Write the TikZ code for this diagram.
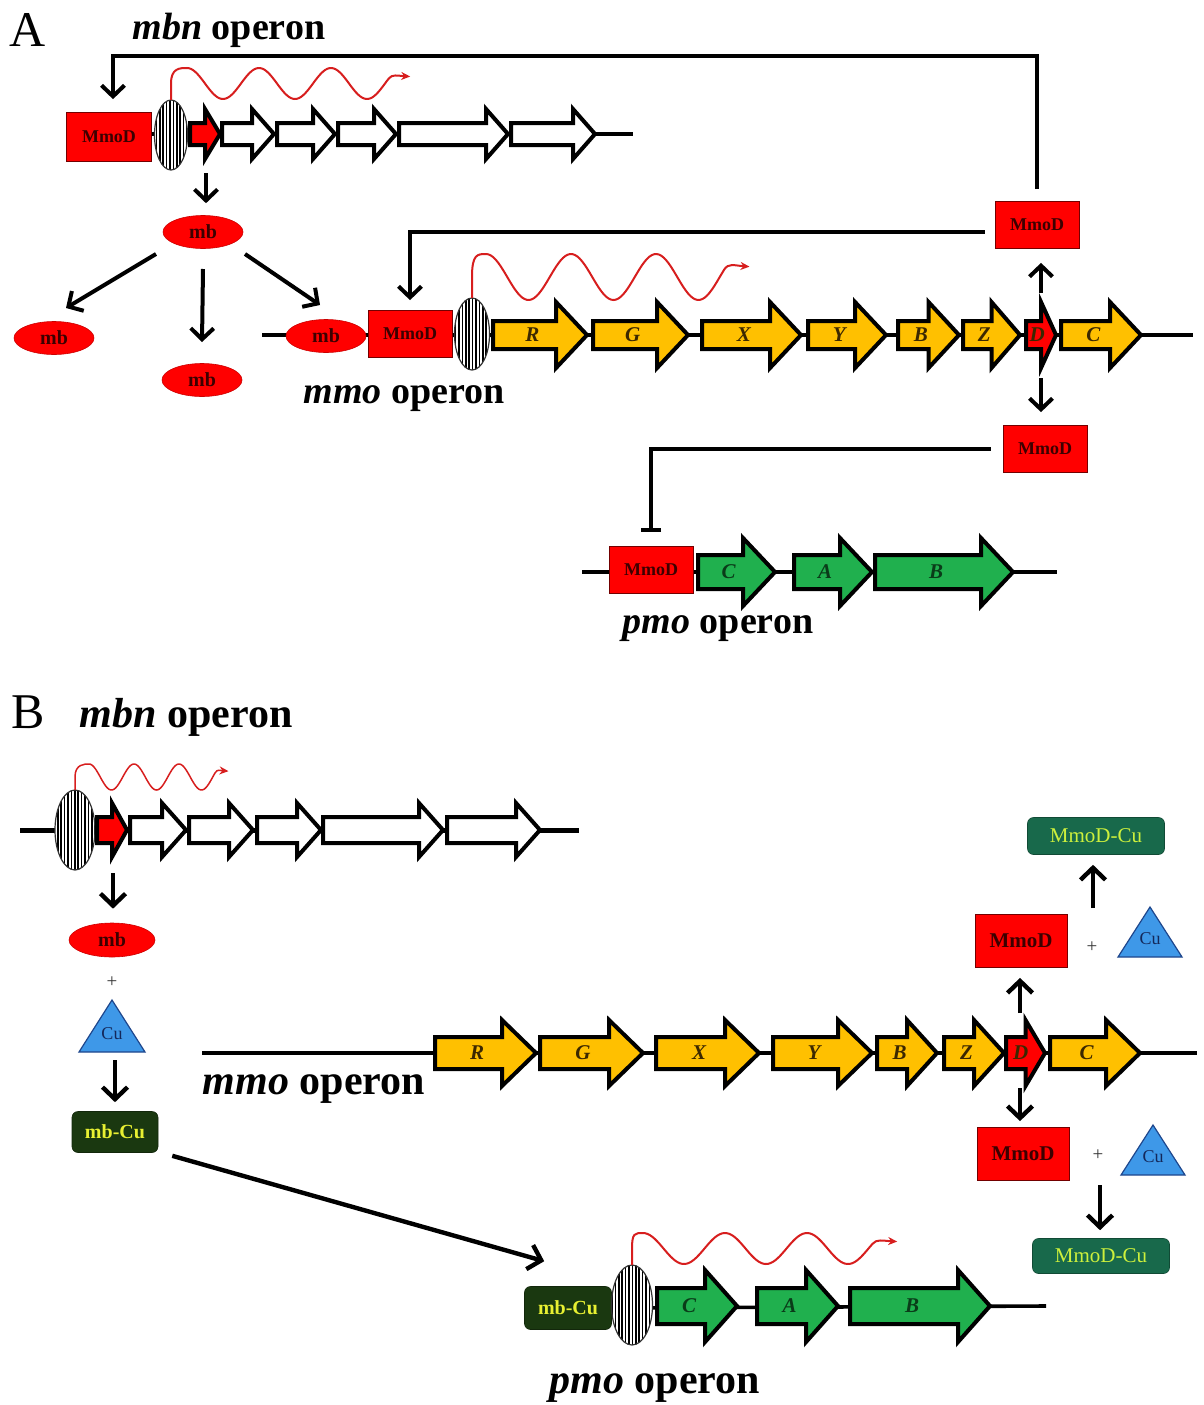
\documentclass[tikz,border=0pt]{standalone}
\usepackage{fontspec}
\setmainfont{Liberation Serif}
\usetikzlibrary{arrows.meta,shapes.geometric,patterns.meta,calc}
\definecolor{gyellow}{RGB}{255,192,0}
\definecolor{ggreen}{RGB}{32,176,78}
\definecolor{gred}{RGB}{255,0,0}
\definecolor{darktxt}{RGB}{60,0,0}
\definecolor{ytxt}{RGB}{60,40,0}
\definecolor{grtxt}{RGB}{10,60,25}
\definecolor{mmodcufill}{RGB}{24,105,75}
\definecolor{mmodcutxt}{RGB}{205,240,60}
\definecolor{mbcufill}{RGB}{26,56,16}
\definecolor{mbcutxt}{RGB}{232,240,50}
\definecolor{cufill}{RGB}{62,152,232}
\definecolor{cuedge}{RGB}{30,70,140}
\definecolor{cutxt}{RGB}{20,40,90}
\definecolor{wavered}{RGB}{215,30,30}
\colorlet{gtxt}{ytxt}
% gene arrow: name, x1, x2, y, body half, head half, head length, fill, label
\newcommand\gene[9]{%
  \pgfmathsetmacro\gx{#3-min(#7,0.5*(#3-#2))}%
  \draw[genestyle, fill=#8] (#2,#4-#5) -- (\gx,#4-#5) -- (\gx,#4-#6) -- (#3,#4) -- (\gx,#4+#6) -- (\gx,#4+#5) -- (#2,#4+#5) -- cycle;
  \pgfmathsetmacro\lx{(#2+\gx)/2+0.25*(#3-\gx)}%
  \node[genelabel] (#1) at (\lx,#4) {#9};
}
% Cu triangle: name, cx, apex y, base y, half width
\newcommand\cutri[5]{%
  \draw[draw=cuedge, fill=cufill, line width=1.2pt, line join=miter] (#2,#3) -- ({#2+#5},#4) -- ({#2-#5},#4) -- cycle;
  \node[cutext] (#1) at (#2,{#4-0.36*(#4-#3)}) {Cu};
}
% transcript wave: start anchor, x, trough y, peak y, period, first peak x
\newcommand\wavepath[6]{%
  \pgfmathsetmacro\wym{(#3+#4)/2}%
  \pgfmathsetmacro\wA{(#3-#4)/2}%
  \pgfmathsetmacro\wk{360/#5}%
  \pgfmathsetmacro\wend{#6+2.8*#5}%
  \pgfmathsetmacro\cxa{\wend+0.05*#5}%
  \pgfmathsetmacro\cya{\wym-0.62*\wA}%
  \pgfmathsetmacro\cxb{\wend+0.12*#5}%
  \pgfmathsetmacro\cyb{\wym-0.5*\wA}%
  \pgfmathsetmacro\hx{\wend+0.3*#5}%
  \pgfmathsetmacro\hy{\wym-0.45*\wA}%
  \pgfmathsetmacro\cpx{#6-0.1*#5}%
  \draw[wave] (#1) -- (#2,\wym) .. controls (#2,#4) and (\cpx,#4) .. (#6,#4) -- plot[domain=#6:\wend,samples=100] (\x,{\wym-\wA*cos((\x-#6)*\wk)}) .. controls (\cxa,\cya) and (\cxb,\cyb) .. (\hx,\hy);
}
\begin{document}
\begin{tikzpicture}[x=1pt,y=-1pt,
  conn/.style={line width=4pt},
  arr/.style={line width=4pt, -{Straight Barb[length=11pt,width=23pt]}},
  arrB/.style={line width=4.4pt, -{Straight Barb[length=12pt,width=25pt]}},
  dna/.style={line width=3.6pt},
  genestyle/.style={draw=black, line width=4pt, line join=miter},
  genelabel/.style={font=\fontsize{21}{21}\selectfont\bfseries\itshape, inner sep=0pt, text=gtxt},
  mmod/.style={rectangle, fill=gred, draw=red!45!black, line width=0.8pt, minimum width=84pt, minimum height=47pt, inner sep=0pt, font=\fontsize{18}{18}\selectfont\bfseries, text=darktxt},
  mmodB/.style={mmod, minimum width=92pt, minimum height=53pt, font=\fontsize{21}{21}\selectfont\bfseries},
  mbst/.style={ellipse, fill=gred, draw=red!80!black, line width=0.6pt, minimum width=80pt, minimum height=33pt, inner sep=0pt, font=\fontsize{20}{20}\selectfont\bfseries, text=darktxt},
  prom/.style={ellipse, fill=white, inner sep=0pt, minimum width=36pt, minimum height=70pt,
     postaction={pattern={Lines[angle=90,distance=3.4pt,line width=1.6pt]}, pattern color=black},
     postaction={draw=black!80, line width=1.2pt}},
  wave/.style={draw=wavered, line width=2pt, -{Stealth[length=9pt,width=8pt]}},
  oplabel/.style={font=\fontsize{38}{40}\selectfont\bfseries},
  oplabelB/.style={font=\fontsize{42}{44}\selectfont\bfseries},
  panel/.style={font=\fontsize{50}{50}\selectfont},
  cutext/.style={font=\fontsize{18}{18}\selectfont, text=cutxt, inner sep=0pt},
  plus/.style={font=\fontsize{19}{19}\selectfont, text=black!80},
  mmodcu/.style={rectangle, rounded corners=6pt, fill=mmodcufill, draw=mmodcufill!70!black, line width=0.6pt, minimum width=137pt, minimum height=37pt, inner sep=0pt, font=\fontsize{21}{21}\selectfont, text=mmodcutxt},
  mbcu/.style={rectangle, rounded corners=6pt, fill=mbcufill, draw=mbcufill!70!black, line width=0.6pt, minimum width=86pt, minimum height=41pt, inner sep=0pt, font=\fontsize{20}{20}\selectfont\bfseries, text=mbcutxt}
]
\useasboundingbox (0,0) rectangle (1203,1405);

% ================= Panel A =================
\node[panel] (labA) at (28,30) {A};
\node[oplabel] (mbnA) at (229,30) {{\itshape mbn} operon};

% mbn operon row
\draw[dna] (109,134) -- (633,134);
\node[mmod, minimum width=85pt, minimum height=49pt] (mmodA1) at (109,137) {MmoD};
\node[prom, minimum width=33pt, minimum height=70pt] (promA1) at (171,135) {};
\gene{gAa}{190}{220}{134}{11}{25}{22}{gred}{}
\gene{gAb}{222}{274}{134}{11}{25}{22}{white}{}
\gene{gAc}{277}{335}{134}{11}{25}{22}{white}{}
\gene{gAd}{338}{396}{134}{11}{25}{22}{white}{}
\gene{gAe}{399}{508}{134}{11}{25}{22}{white}{}
\gene{gAf}{511}{595}{134}{11}{25}{22}{white}{}
\wavepath{promA1.north}{171}{99}{68}{72}{187}

% mb products
\node[mbst] (mb0) at (203,232) {mb};
\node[mbst] (mbL) at (54,338) {mb};
\node[mbst] (mbM) at (202,380) {mb};
\coordinate (mbnout) at (206,173);
\draw[arr, shorten >=12pt] (mbnout) -- (mbnout |- mb0.north);
\draw[arr] ($(mb0)+(-47,22)$) -- ($(mbL)+(12,-30)$);
\draw[arr] ($(mb0)+(0,37)$) -- ($(mbM)+(0,-38)$);

% mmo operon row
\draw[dna] (262,335) -- (1193,335);
\node[mbst] (mbR) at (326,336) {mb};
\draw[arr] ($(mb0)+(42,22)$) -- ($(mbR)+(-6,-31)$);
\node[mmod] (mmodAm) at (410,334) {MmoD};
\node[prom, minimum width=35pt, minimum height=72pt] (promA2) at (472,334) {};
\gene{gAR}{493}{587}{335}{14}{33}{31}{gyellow}{R}
\gene{gAG}{593}{688}{335}{14}{33}{31}{gyellow}{G}
\gene{gAX}{702}{801}{335}{14}{33}{31}{gyellow}{X}
\gene{gAY}{808}{886}{335}{14}{33}{31}{gyellow}{Y}
\gene{gAB}{898}{959}{335}{14}{33}{31}{gyellow}{B}
\gene{gAZ}{963}{1020}{335}{14}{33}{31}{gyellow}{Z}
\gene{gAD}{1026}{1056}{335}{14}{33}{31}{gred}{D}
\gene{gAC}{1061}{1141}{335}{14}{33}{31}{gyellow}{C}
\wavepath{promA2.north}{472}{300}{254}{85}{486}
\node[oplabel] (mmoA) at (404,399) {{\itshape mmo} operon};

% MmoD products
\node[mmod] (mmodA2) at (1037,225) {MmoD};
\node[mmod] (mmodA3) at (1045,449) {MmoD};
\coordinate (DupA) at (1041,293);
\coordinate (DdnA) at (1041,378);
\draw[arr, shorten >=14pt] (DupA) -- (DupA |- mmodA2.south);
\draw[arr, shorten >=13pt] (DdnA) -- (DdnA |- mmodA3.north);

% feedback connectors
\draw[arr, shorten <=12pt, shorten >=13pt] (mmodA2.north) |- ($(mmodA1.north)+(4,-56)$) -- ($(mmodA1.north)+(4,0)$);
\draw[arr, shorten <=10pt, shorten >=10pt] ($(mmodA2.west)+(0,7)$) -| (mmodAm.north);

% pmo operon row
\draw[dna] (582,572) -- (1057,572);
\node[mmod] (mmodAp) at (651,570) {MmoD};
\colorlet{gtxt}{grtxt}
\gene{gApC}{698}{775}{572}{17}{34}{32}{ggreen}{C}
\gene{gApA}{794}{872}{572}{17}{34}{32}{ggreen}{A}
\gene{gApB}{875}{1013}{572}{17}{34}{32}{ggreen}{B}
\colorlet{gtxt}{ytxt}
\draw[conn, -{Bar[width=20pt]}, shorten <=12pt, shorten >=14pt] (mmodA3.west) -| (mmodAp.north);
\node[oplabel] (pmoA) at (718,629) {{\itshape pmo} operon};

% ================= Panel B =================
\node[panel] (labB) at (28,712) {B};
\node[oplabelB] (mbnB) at (186,717) {{\itshape mbn} operon};

% mbn row
\draw[dna, line width=5pt] (20,830) -- (579,830);
\node[prom, minimum width=40pt, minimum height=80pt] (promB1) at (75,830) {};
\gene{gBa}{97}{127}{830}{13}{27}{24}{gred}{}
\gene{gBb}{130}{186}{830}{13}{27}{24}{white}{}
\gene{gBc}{189}{253}{830}{13}{27}{24}{white}{}
\gene{gBd}{257}{321}{830}{13}{27}{24}{white}{}
\gene{gBe}{323}{443}{830}{13}{27}{24}{white}{}
\gene{gBf}{447}{540}{830}{13}{27}{24}{white}{}
\begin{scope}[wave/.append style={line width=1.5pt}]
\wavepath{promB1.north}{75}{790}{764}{45}{89}
\end{scope}

\node[mbst, minimum width=86pt, minimum height=34pt] (mbB) at (112,940) {mb};
\coordinate (mbnoutB) at (113,873);
\draw[arrB, shorten >=14pt] (mbnoutB) -- (mbnoutB |- mbB.north);
\node[plus] (plusB1) at (112,982) {+};
\cutri{cuB1}{112}{1000}{1052}{33}
\node[mbcu] (mbcu1) at (115,1132) {mb-Cu};
\coordinate (cuoutB) at (115,1060);
\draw[arrB, shorten >=9pt] (cuoutB) -- (cuoutB |- mbcu1.north);

% mmo row
\draw[dna] (202,1053) -- (1197,1053);
\gene{gBR}{435}{536}{1053}{16}{33}{34}{gyellow}{R}
\gene{gBG}{540}{643}{1053}{16}{33}{34}{gyellow}{G}
\gene{gBX}{656}{759}{1053}{16}{33}{34}{gyellow}{X}
\gene{gBY}{773}{872}{1053}{16}{33}{34}{gyellow}{Y}
\gene{gBB}{877}{937}{1053}{16}{33}{34}{gyellow}{B}
\gene{gBZ}{944}{1004}{1053}{16}{33}{34}{gyellow}{Z}
\gene{gBD}{1006}{1045}{1053}{16}{33}{34}{gred}{D}
\gene{gBC}{1050}{1140}{1053}{16}{33}{34}{gyellow}{C}
\node[oplabelB] (mmoB) at (314,1089) {{\itshape mmo} operon};

% right side products
\node[mmodcu] (mmodcuT) at (1096,836) {MmoD-Cu};
\node[mmodB] (mmodB1) at (1021,941) {MmoD};
\node[plus] (plusB2) at (1092,947) {+};
\cutri{cuB2}{1150}{907}{957}{32}
\node[mmodB] (mmodB2) at (1023,1154) {MmoD};
\node[plus] (plusB3) at (1098,1155) {+};
\cutri{cuB3}{1153}{1125}{1175}{32}
\node[mmodcu, minimum height=35pt] (mmodcuB) at (1101,1256) {MmoD-Cu};
\coordinate (DupB) at (1020,1013);
\coordinate (DdnB) at (1020,1088);
\coordinate (cuupB) at (1093,908);
\coordinate (cudnB) at (1100,1185);
\draw[arrB, shorten >=10pt] (DupB) -- (DupB |- mmodB1.south);
\draw[arrB, shorten >=6pt] (DdnB) -- (DdnB |- mmodB2.north);
\draw[arrB, shorten >=10pt] (cuupB) -- (cuupB |- mmodcuT.south);
\draw[arrB, shorten >=8pt] (cudnB) -- (cudnB |- mmodcuB.north);

% pmo row
\node[mbcu, minimum width=87pt, minimum height=43pt] (mbcu2) at (568,1308) {mb-Cu};
\draw[dna] (mbcu2.east) -- (1046,1306);
\node[prom, minimum width=41pt, minimum height=80pt] (promB2) at (632,1305) {};
\colorlet{gtxt}{grtxt}
\gene{gBpC}{657}{737}{1306}{18}{36}{32}{ggreen}{C}
\gene{gBpA}{757}{838}{1306}{18}{36}{32}{ggreen}{A}
\gene{gBpB}{850}{990}{1306}{18}{36}{32}{ggreen}{B}
\colorlet{gtxt}{ytxt}
\wavepath{promB2.north}{632}{1264}{1233}{82}{643}
\node[oplabelB] (pmoB) at (655,1388) {{\itshape pmo} operon};

% mb-Cu to pmo
\draw[arrB] ($(mbcu1.south east)+(14,3)$) -- ($(mbcu2.north west)+(20,-25)$);
\end{tikzpicture}
\end{document}
